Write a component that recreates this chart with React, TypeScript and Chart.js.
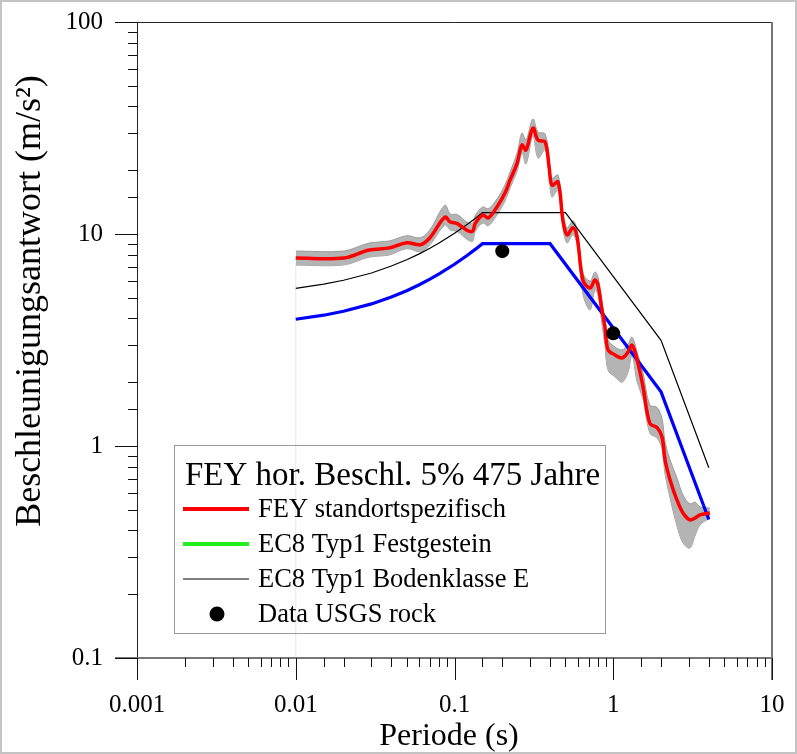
import React, { useEffect, useRef } from 'react';
import { Chart, registerables } from 'chart.js';

Chart.register(...registerables);

// ---- data ----
const periods = [
  0.01, 0.02, 0.029, 0.039, 0.05, 0.061, 0.07, 0.087, 0.094, 0.104,
  0.12, 0.13, 0.135, 0.151, 0.163, 0.185, 0.208, 0.224, 0.248, 0.266,
  0.282, 0.312, 0.336, 0.372, 0.395, 0.411, 0.449, 0.482, 0.512, 0.557,
  0.592, 0.644, 0.714, 0.767, 0.802, 0.849, 0.887, 0.927, 1.026, 1.135,
  1.239, 1.313, 1.413, 1.54, 1.7, 1.89, 2.03, 2.12, 2.28, 2.52,
  2.75, 3.04, 3.27, 3.52, 4.06,
];
const feySite = [
  7.7, 7.7, 8.4, 8.6, 9.1, 8.9, 9.6, 12.0, 11.4, 11.2,
  10.4, 10.3, 11.2, 12.3, 11.9, 13.4, 15.6, 18.0, 21.6, 26.3,
  24.9, 31.6, 27.7, 27.2, 20.5, 17.0, 17.6, 11.6, 9.9, 10.7,
  9.7, 6.07, 5.56, 6.07, 5.74, 4.38, 3.64, 2.84, 2.69, 2.6,
  2.77, 2.99, 2.55, 1.9, 1.28, 1.22, 1.1, 0.859, 0.692, 0.556,
  0.483, 0.448, 0.457, 0.473, 0.483,
];
const feyUpper = [
  8.31, 8.31, 9.06, 9.28, 9.82, 9.6, 10.47, 13.67, 12.44, 12.35,
  11.35, 11.24, 12.22, 13.42, 13.13, 14.62, 17.02, 19.64, 24.08, 29.96,
  27.77, 34.86, 30.22, 29.68, 22.37, 18.34, 18.99, 12.52, 10.68, 11.55,
  10.47, 6.55, 6.0, 6.62, 6.26, 4.78, 3.97, 3.17, 2.93, 2.84,
  3.02, 3.26, 2.78, 2.21, 1.56, 1.52, 1.34, 1.045, 0.86, 0.706,
  0.587, 0.533, 0.544, 0.516, 0.51,
];
const feyLower = [
  7.14, 7.14, 7.78, 7.97, 8.53, 8.25, 8.9, 11.0, 10.45, 10.27,
  9.43, 9.24, 10.27, 11.27, 10.91, 12.28, 14.3, 16.5, 19.8, 24.11,
  21.39, 28.96, 22.78, 24.93, 18.79, 14.93, 16.13, 10.63, 9.07, 9.92,
  8.89, 5.21, 4.38, 5.44, 5.15, 3.76, 2.99, 2.28, 2.12, 2.0,
  2.23, 2.68, 2.01, 1.67, 1.15, 1.09, 0.966, 0.738, 0.569, 0.419,
  0.349, 0.33, 0.376, 0.424, 0.457,
];
const ec8RockPeriods = [0.01, 0.015, 0.02, 0.03, 0.04, 0.05, 0.06, 0.07, 0.08, 0.1, 0.12, 0.135, 0.15, 0.4, 2, 4];
const ec8RockValues = [3.96, 4.14, 4.32, 4.68, 5.04, 5.4, 5.76, 6.12, 6.48, 7.2, 7.92, 8.46, 9.0, 9.0, 1.8, 0.45];
const ec8SoilPeriods = [0.01, 0.015, 0.02, 0.03, 0.04, 0.05, 0.06, 0.07, 0.08, 0.1, 0.12, 0.135, 0.15, 0.5, 2, 4];
const ec8SoilValues = [5.54, 5.8, 6.05, 6.55, 7.06, 7.56, 8.06, 8.57, 9.07, 10.08, 11.09, 11.84, 12.6, 12.6, 3.15, 0.79];
const usgsPeriods = [0.2, 1.0];
const usgsValues = [8.3, 3.4];
const startLinePeriods = [0.01, 0.01];
const startLineValues = [0.1, 7.14];

const xTickLabels = ['0.001', '0.01', '0.1', '1', '10'];
const yTickLabels = ['0.1', '1', '10', '100'];

const legendTitle = 'FEY hor. Beschl. 5% 475 Jahre';
const legendItems = [
  { label: 'FEY standortspezifisch', color: '#ff0000', width: 4, kind: 'line' },
  { label: 'EC8 Typ1 Festgestein', color: '#22ee22', width: 4, kind: 'line' },
  { label: 'EC8 Typ1 Bodenklasse E', color: '#000000', width: 1, kind: 'line' },
  { label: 'Data USGS rock', color: '#000000', width: 0, kind: 'dot' },
];
const xTitle = 'Periode (s)';
const yTitle = 'Beschleunigungsantwort (m/s\u00B2)';

const SERIF = '"Liberation Serif", "Times New Roman", serif';

const pts = (xs: number[], ys: number[]) => xs.map((x, i) => ({ x, y: ys[i] }));

const labelFor = (list: string[]) => (value: number | string) => {
  const v = Number(value);
  const found = list.find((l) => Math.abs(Number(l) - v) / Number(l) < 1e-6);
  return found ?? '';
};

const decorPlugin = {
  id: 'decor',
  afterDraw(chart: any) {
    const { ctx, chartArea, scales } = chart;
    const { left, right, top, bottom } = chartArea;
    const xs = scales.x;
    const ys = scales.y;
    ctx.save();
    // outer frame of the picture
    ctx.strokeStyle = '#c4c4c4';
    ctx.lineWidth = 2;
    ctx.strokeRect(1, 1, chart.width - 2, chart.height - 2);

    // plot frame
    ctx.lineWidth = 1;
    ctx.strokeStyle = '#222';
    ctx.beginPath();
    ctx.moveTo(left, top + 0.5);
    ctx.lineTo(right, top + 0.5);
    ctx.moveTo(left + 0.5, top);
    ctx.lineTo(left + 0.5, bottom + 22);
    ctx.stroke();
    ctx.strokeStyle = '#777';
    ctx.lineWidth = 2;
    ctx.beginPath();
    ctx.moveTo(left - 22, bottom);
    ctx.lineTo(right, bottom);
    ctx.moveTo(right, top);
    ctx.lineTo(right, bottom + 22);
    ctx.stroke();

    // ticks
    ctx.strokeStyle = '#111';
    ctx.lineWidth = 1;
    ctx.beginPath();
    xs.ticks.forEach((t: any) => {
      const px = Math.round(xs.getPixelForValue(t.value)) + 0.5;
      const major = labelFor(xTickLabels)(t.value) !== '';
      ctx.moveTo(px, bottom);
      ctx.lineTo(px, bottom + (major ? 22 : 9));
    });
    ys.ticks.forEach((t: any) => {
      const py = Math.round(ys.getPixelForValue(t.value)) + 0.5;
      const major = labelFor(yTickLabels)(t.value) !== '';
      ctx.moveTo(left, py);
      ctx.lineTo(left - (major ? 22 : 9), py);
    });
    ctx.stroke();

    // axis titles
    ctx.fillStyle = '#000';
    ctx.font = `32px ${SERIF}`;
    ctx.textAlign = 'center';
    ctx.textBaseline = 'middle';
    ctx.fillText(xTitle, 449, 737);
    ctx.save();
    ctx.translate(31, 301);
    ctx.rotate(-Math.PI / 2);
    ctx.font = `36px ${SERIF}`;
    ctx.fillText(yTitle, 0, 0);
    ctx.restore();

    // legend
    const bx = 174, by = 445, bw = 431, bh = 188;
    ctx.strokeStyle = '#9a9a9a';
    ctx.lineWidth = 1;
    ctx.strokeRect(bx + 0.5, by + 0.5, bw, bh);
    ctx.textAlign = 'left';
    ctx.textBaseline = 'alphabetic';
    ctx.font = `33px ${SERIF}`;
    ctx.fillText(legendTitle, 185, 485);
    ctx.font = `26.5px ${SERIF}`;
    legendItems.forEach((item, i) => {
      const base = 517 + i * 35;
      const cy = base - 8;
      if (item.kind === 'line') {
        ctx.strokeStyle = item.color;
        ctx.lineWidth = item.width;
        ctx.beginPath();
        ctx.moveTo(183, cy);
        ctx.lineTo(249, cy);
        ctx.stroke();
      } else {
        ctx.fillStyle = item.color;
        ctx.beginPath();
        ctx.arc(217, cy, 7.5, 0, Math.PI * 2);
        ctx.fill();
      }
      ctx.fillStyle = '#000';
      ctx.fillText(item.label, 258, base);
    });
    ctx.restore();
  },
};

export default function App() {
  const ref = useRef<HTMLCanvasElement | null>(null);
  useEffect(() => {
    if (!ref.current) return;
    const chart = new Chart(ref.current, {
      type: 'line',
      data: {
        datasets: [
          {
            label: 'Data USGS rock',
            data: pts(usgsPeriods, usgsValues),
            showLine: false,
            pointRadius: 7,
            pointBackgroundColor: '#000',
            pointBorderWidth: 0,
            borderColor: '#000',
          },
          {
            label: 'FEY standortspezifisch',
            data: pts(periods, feySite),
            borderColor: '#ff0000',
            borderWidth: 3.5,
            pointRadius: 0,
            tension: 0.35,
            fill: false,
          },
          {
            label: 'EC8 Typ1 Festgestein',
            data: pts(ec8RockPeriods, ec8RockValues),
            borderColor: '#0000ff',
            borderWidth: 3.2,
            pointRadius: 0,
            tension: 0,
            fill: false,
          },
          {
            label: 'EC8 Typ1 Bodenklasse E',
            data: pts(ec8SoilPeriods, ec8SoilValues),
            borderColor: '#000',
            borderWidth: 1.2,
            pointRadius: 0,
            tension: 0,
            fill: false,
          },
          {
            label: 'upper',
            data: pts(periods, feyUpper),
            borderColor: '#9a9a9a',
            borderWidth: 1,
            backgroundColor: '#b4b4b4',
            pointRadius: 0,
            tension: 0.35,
            fill: '+1',
          },
          {
            label: 'lower',
            data: pts(periods, feyLower),
            borderColor: '#9a9a9a',
            borderWidth: 1,
            pointRadius: 0,
            tension: 0.35,
            fill: false,
          },
          {
            label: 'start',
            data: pts(startLinePeriods, startLineValues),
            borderColor: '#e8e8e8',
            borderWidth: 1,
            pointRadius: 0,
            fill: false,
          },
        ],
      },
      options: {
        animation: false,
        responsive: false,
        maintainAspectRatio: false,
        layout: { padding: { left: 0, right: 25, top: 22, bottom: 0 } },
        plugins: { legend: { display: false }, tooltip: { enabled: false } },
        scales: {
          x: {
            type: 'logarithmic',
            min: 0.001,
            max: 10,
            grid: { display: false, drawTicks: false },
            border: { display: false },
            ticks: {
              autoSkip: false,
              maxRotation: 0,
              padding: 32,
              color: '#000',
              font: { family: SERIF, size: 25 },
              callback: labelFor(xTickLabels),
            },
            afterFit: (s: any) => {
              s.height = 96;
              s.paddingLeft = 0;
              s.paddingRight = 0;
            },
          },
          y: {
            type: 'logarithmic',
            min: 0.1,
            max: 100,
            grid: { display: false, drawTicks: false },
            border: { display: false },
            ticks: {
              autoSkip: false,
              padding: 34,
              color: '#000',
              font: { family: SERIF, size: 25 },
              callback: labelFor(yTickLabels),
            },
            afterFit: (s: any) => {
              s.width = 137;
              s.paddingTop = 0;
              s.paddingBottom = 0;
            },
          },
        },
      },
      plugins: [decorPlugin],
    } as any);
    return () => chart.destroy();
  }, []);

  return (
    <div style={{ position: 'absolute', left: 0, top: 0, width: 797, height: 754, background: '#fff' }}>
      <canvas ref={ref} width={797} height={754} style={{ width: 797, height: 754 }} />
    </div>
  );
}
